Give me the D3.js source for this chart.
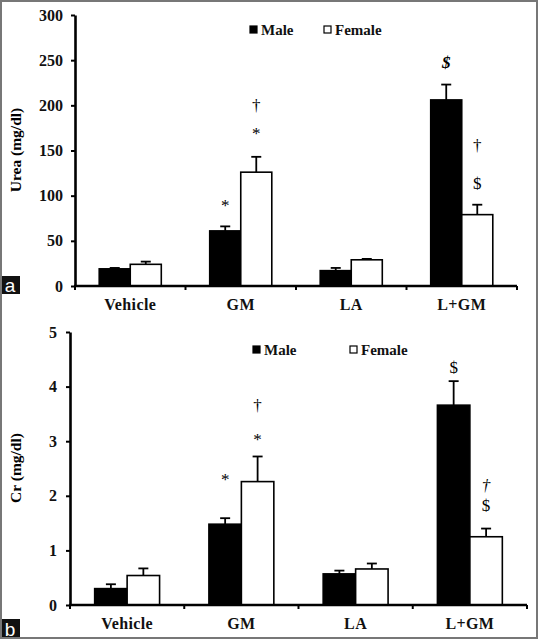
<!DOCTYPE html>
<html><head><meta charset="utf-8">
<script src="https://cdn.jsdelivr.net/npm/d3@7"></script>
<style>body{margin:0;background:#fff}svg{display:block}</style>
</head><body>
<svg id="c" width="538" height="639"></svg>
<script>
const categories = ["Vehicle", "GM", "LA", "L+GM"];
const seriesNames = ["Male", "Female"];

const ureaMale = [19, 61, 17, 206];
const ureaMaleErr = [1, 5, 3, 17];
const ureaFemale = [24, 126, 29, 79];
const ureaFemaleErr = [3, 17, 1, 11];
const ureaTicks = [0, 50, 100, 150, 200, 250, 300];
const ureaMarks = [
  {cat: "GM", series: "Male", sym: "*", v: 95},
  {cat: "GM", series: "Female", sym: "*", v: 175},
  {cat: "GM", series: "Female", sym: "†", v: 200},
  {cat: "L+GM", series: "Male", sym: "$", v: 248, bold: true, italic: true},
  {cat: "L+GM", series: "Female", sym: "$", v: 114},
  {cat: "L+GM", series: "Female", sym: "†", v: 156}
];

const crMale = [0.30, 1.48, 0.57, 3.66];
const crMaleErr = [0.08, 0.11, 0.06, 0.44];
const crFemale = [0.54, 2.26, 0.66, 1.25];
const crFemaleErr = [0.13, 0.46, 0.10, 0.15];
const crTicks = [0, 1, 2, 3, 4, 5];
const crMarks = [
  {cat: "GM", series: "Male", sym: "*", v: 2.40},
  {cat: "GM", series: "Female", sym: "*", v: 3.13},
  {cat: "GM", series: "Female", sym: "†", v: 3.66},
  {cat: "L+GM", series: "Male", sym: "$", v: 4.36},
  {cat: "L+GM", series: "Female", sym: "$", v: 1.83},
  {cat: "L+GM", series: "Female", sym: "†", v: 2.20, italic: true}
];

const svg = d3.select("#c");
const serif = "'Liberation Serif','Times New Roman',serif";

function panel(o) {
  const g = svg.append("g");
  const x0 = d3.scaleBand().domain(categories).range([o.left, o.right]).paddingInner(0).paddingOuter(0);
  const x1 = d3.scaleBand().domain(seriesNames).range([0, x0.bandwidth()]).paddingInner(0).paddingOuter(o.pad);
  const y = d3.scaleLinear().domain(o.domain).range([o.bottom, o.top]);

  const rows = [];
  categories.forEach((c, i) => {
    rows.push({cat: c, series: "Male", v: o.male[i], e: o.maleErr[i]});
    rows.push({cat: c, series: "Female", v: o.female[i], e: o.femaleErr[i]});
  });

  const eb = g.append("g").attr("stroke", "#000").attr("stroke-width", 1.8);
  rows.forEach(r => {
    const cx = x0(r.cat) + x1(r.series) + x1.bandwidth() / 2;
    eb.append("line").attr("x1", cx).attr("x2", cx).attr("y1", y(r.v)).attr("y2", y(r.v + r.e));
    eb.append("line").attr("x1", cx - 5).attr("x2", cx + 5).attr("y1", y(r.v + r.e)).attr("y2", y(r.v + r.e));
  });

  g.append("g").selectAll("rect").data(rows).join("rect")
    .attr("x", d => x0(d.cat) + x1(d.series))
    .attr("y", d => y(d.v))
    .attr("width", x1.bandwidth())
    .attr("height", d => y(0) - y(d.v))
    .attr("fill", d => d.series === "Male" ? "#000" : "#fff")
    .attr("stroke", "#000").attr("stroke-width", 1.6);

  const ya = g.append("g").attr("transform", `translate(${o.left},0)`)
    .call(d3.axisLeft(y).tickValues(o.ticks).tickFormat(d3.format("d")).tickSize(4).tickSizeOuter(0).tickPadding(o.tickPad));
  ya.select(".domain").attr("stroke-width", 2.6);
  ya.selectAll(".tick line").attr("stroke-width", 2);
  ya.selectAll(".tick text").attr("font-family", serif).attr("font-size", 16).attr("font-weight", "bold").attr("fill", "#111");

  const xa = g.append("g");
  xa.append("line").attr("x1", o.left - 1).attr("x2", o.right).attr("y1", y(0)).attr("y2", y(0))
    .attr("stroke", "#000").attr("stroke-width", 2.6);
  const bounds = categories.map(c => x0(c)).concat([x0.range()[1]]);
  bounds.forEach(bx => {
    xa.append("line").attr("x1", bx).attr("x2", bx).attr("y1", y(0)).attr("y2", y(0) + 4)
      .attr("stroke", "#000").attr("stroke-width", 2);
  });
  const xl = g.append("g").attr("transform", `translate(0,${y(0)})`)
    .call(d3.axisBottom(x0).tickSize(0).tickPadding(o.catPad));
  xl.select(".domain").remove();
  xl.selectAll(".tick text").attr("font-family", serif).attr("font-size", 16).attr("font-weight", "bold")
    .attr("letter-spacing", 0.4).attr("fill", "#111");

  g.append("text").attr("transform", `translate(${o.ylabX},${o.ylabY}) rotate(-90)`)
    .attr("text-anchor", "middle").attr("dominant-baseline", "central")
    .attr("font-family", serif).attr("font-size", 15.5).attr("font-weight", "bold").text(o.ylab);

  o.marks.forEach(m => {
    const cx = x0(m.cat) + x1(m.series) + x1.bandwidth() / 2;
    g.append("text").attr("x", cx).attr("y", y(m.v))
      .attr("text-anchor", "middle").attr("dy", m.sym === "*" ? "0.65em" : "0.35em")
      .attr("font-family", serif).attr("font-size", 17).attr("fill", "#000")
      .attr("font-weight", m.bold ? "bold" : "normal")
      .attr("font-style", m.italic ? "italic" : "normal")
      .text(m.sym);
  });

  const lg = g.append("g").attr("font-family", serif).attr("font-size", 15).attr("font-weight", "bold").attr("fill", "#111");
  seriesNames.forEach((s, i) => {
    const lx = o.legX[i];
    lg.append("rect").attr("x", lx).attr("y", o.legY - 4).attr("width", 7).attr("height", 7)
      .attr("fill", s === "Male" ? "#000" : "#fff").attr("stroke", "#000").attr("stroke-width", 1.2);
    lg.append("text").attr("x", lx + 11).attr("y", o.legY).attr("dy", "0.35em").text(s);
  });

  g.append("rect").attr("x", 0).attr("y", o.tagY).attr("width", 20).attr("height", o.tagH).attr("fill", "#111");
  g.append("text").attr("x", 10).attr("y", o.tagY + o.tagH / 2).attr("dy", "0.36em").attr("text-anchor", "middle")
    .attr("font-family", "'Liberation Sans',Arial,sans-serif").attr("font-size", 19).attr("fill", "#fff").text(o.tag);
}

panel({left: 75, right: 517, top: 15, bottom: 286, domain: [0, 300], ticks: ureaTicks, pad: 0.78,
  male: ureaMale, maleErr: ureaMaleErr, female: ureaFemale, femaleErr: ureaFemaleErr, marks: ureaMarks,
  tickPad: 8, catPad: 13, ylab: "Urea (mg/dl)", ylabX: 15, ylabY: 150,
  legX: [250, 324], legY: 30, tag: "a", tagY: 276, tagH: 18});

panel({left: 70, right: 527, top: 332, bottom: 605, domain: [0, 5], ticks: crTicks, pad: 0.76,
  male: crMale, maleErr: crMaleErr, female: crFemale, femaleErr: crFemaleErr, marks: crMarks,
  tickPad: 9, catPad: 13, ylab: "Cr (mg/dl)", ylabX: 15, ylabY: 468,
  legX: [253, 350], legY: 350, tag: "b", tagY: 619, tagH: 20});

svg.append("rect").attr("x", 1).attr("y", 1).attr("width", 536).attr("height", 637)
  .attr("fill", "none").attr("stroke", "#777").attr("stroke-width", 2);
</script>
</body></html>
